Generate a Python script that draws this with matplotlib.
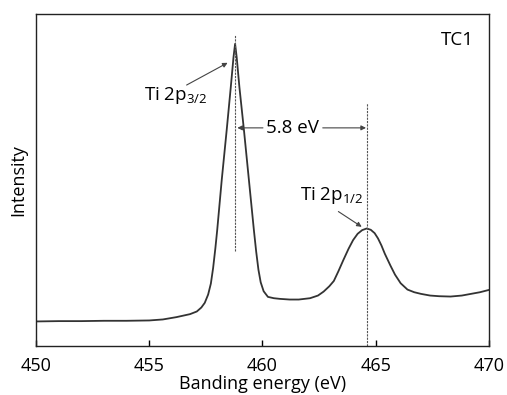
import numpy as np
import matplotlib
matplotlib.use("Agg")
import matplotlib.pyplot as plt

plt.rcParams["font.family"] = ["Open Sans", "DejaVu Sans"]
plt.rcParams["mathtext.fontset"] = "custom"
plt.rcParams["mathtext.rm"] = "Open Sans"
plt.rcParams["mathtext.it"] = "Open Sans:italic"

# ----------------------
# 数据
# ----------------------
energy = [450.0, 451.0, 452.0, 453.0, 454.0, 455.0, 455.6, 456.2, 456.8, 457.1,
          457.3, 457.45, 457.6, 457.72, 457.82, 457.92, 458.0, 458.2, 458.42, 458.6,
          458.72, 458.79, 458.86, 458.98, 459.18, 459.4, 459.62, 459.72, 459.82, 459.92,
          460.05, 460.24, 460.5, 460.77, 461.2, 461.6,
          462.1, 462.45, 462.7, 462.95, 463.15, 463.35, 463.57, 463.8, 464.0, 464.2,
          464.4, 464.6, 464.78, 464.95, 465.1, 465.25, 465.4, 465.65, 465.85, 466.1, 466.4,
          466.7, 467.0, 467.4, 467.8, 468.3, 468.8, 469.2, 469.6, 470.0]
intensity = [7.4, 7.5, 7.5, 7.6, 7.6, 7.7, 8.0, 8.7, 9.6, 10.4,
             11.6, 13.0, 15.5, 18.8, 23.5, 29.5, 34.9, 50.0, 65.1, 78.0,
             87.0, 91.0, 87.0, 78.0, 65.1, 50.0, 34.9, 28.5, 23.0, 19.2,
             16.5, 14.8, 14.4, 14.2, 14.0, 14.0,
             14.4, 15.2, 16.4, 18.0, 19.6, 22.5, 25.9, 29.3, 31.9, 33.8,
             34.9, 35.4, 35.0, 34.0, 32.4, 30.3, 27.8, 24.2, 21.5, 18.9, 17.0,
             16.2, 15.7, 15.2, 15.0, 14.9, 15.2, 15.7, 16.2, 16.9]

peak_32 = 458.8     # Ti 2p3/2
peak_12 = 464.6     # Ti 2p1/2
split_label = "5.8 eV"
sample_label = "TC1"

# ----------------------
# 绘图
# ----------------------
fig = plt.figure(figsize=(5.07, 3.95), dpi=100)
ax = fig.add_axes([0.071, 0.124, 0.8935, 0.8406])

ax.plot(energy, intensity, color="#333333", lw=1.3)

# 峰位虚线
ax.plot([peak_32, peak_32], [28.6, 93.7], color="#555555", lw=0.8, ls=(0, (2, 1)))
ax.plot([peak_12, peak_12], [0, 73.2], color="#555555", lw=0.8, ls=(0, (2, 1)))

arrow = dict(arrowstyle="-|>", lw=0.8, color="#444444", mutation_scale=7,
             shrinkA=0, shrinkB=0)

fs = 13.5
ax.annotate("", xy=(458.46, 85.3), xytext=(456.65, 78.6), arrowprops=arrow)
ax.text(454.77, 74.1, "Ti 2p$_{\\mathrm{3/2}}$", fontsize=fs, ha="left", va="baseline")

ax.annotate("", xy=(464.38, 35.9), xytext=(463.35, 40.5), arrowprops=arrow)
ax.text(461.66, 44.0, "Ti 2p$_{\\mathrm{1/2}}$", fontsize=fs, ha="left", va="baseline")

# 5.8 eV 间距
ax.text(461.32, 65.7, split_label, fontsize=fs, ha="center", va="center")
ax.annotate("", xy=(458.89, 65.7), xytext=(460.02, 65.7), arrowprops=arrow)
ax.annotate("", xy=(464.57, 65.7), xytext=(462.66, 65.7), arrowprops=arrow)

ax.text(0.930, 0.922, sample_label, transform=ax.transAxes, fontsize=fs,
        ha="center", va="center")

ax.set_xlim(450, 470)
ax.set_ylim(0, 100)
ax.set_xticks([450, 455, 460, 465, 470])
ax.tick_params(axis="x", direction="in", length=4, width=1, labelsize=13, pad=8)
ax.set_yticks([])
for s in ax.spines.values():
    s.set_linewidth(1.0)
    s.set_color("#222222")

ax.set_xlabel("Banding energy (eV)", fontsize=13, labelpad=0)
ax.set_ylabel("Intensity", fontsize=13, labelpad=6)

fig.savefig("out.png", dpi=100)
